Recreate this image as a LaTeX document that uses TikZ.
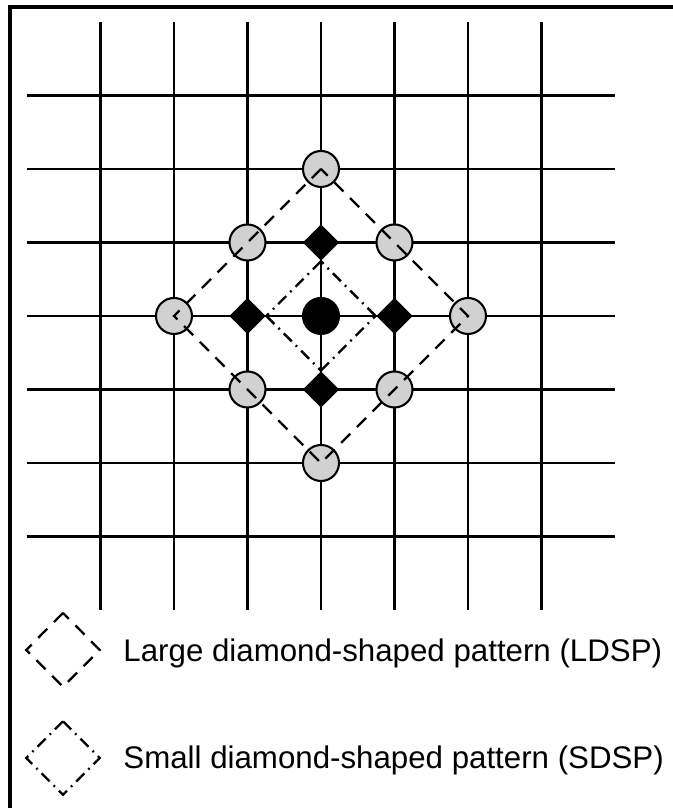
\documentclass[tikz,border=0pt]{standalone}
\usepackage{fontspec}
\setmainfont{Liberation Sans}
\usetikzlibrary{shapes.geometric}

\tikzset{
  gridline/.style={line width=0.8pt},
  lpt/.style={circle,draw,line width=0.8pt,fill=black!18,minimum size=0.49cm,inner sep=0pt},
  cpt/.style={circle,draw,line width=0.8pt,fill=black,minimum size=0.49cm,inner sep=0pt},
  spt/.style={diamond,fill=black,minimum size=0.5cm,inner sep=0pt},
  ldsp/.style={line width=0.9pt,dash pattern=on 5pt off 3.6pt},
  sdsp/.style={line width=0.9pt,dash pattern=on 4.4pt off 2.2pt on 0.7pt off 2.2pt},
  legtext/.style={anchor=base west,inner sep=0pt,font=\fontsize{12.1}{14}\selectfont}
}

\begin{document}
\begin{tikzpicture}
\useasboundingbox (-4.367,-6.694) rectangle (4.776,4.299);
% frame
\draw[line width=1.2pt] (-4.231,-7) -- (-4.231,4.204) -- (5,4.204);
% grid
\foreach \k in {-3,...,3} {
  \draw[gridline] (\k,-4) -- (\k,4);
  \draw[gridline] (-4,\k) -- (4,\k);
}
% search points
\node[cpt] (c0) at (0,0) {};
\node[spt] (st) at (0,1) {};
\node[spt] (sl) at (-1,0) {};
\node[spt] (sr) at (1,0) {};
\node[spt] (sb) at (0,-1) {};
\node[lpt] (lt) at (0,2) {};
\node[lpt] (ll) at (-2,0) {};
\node[lpt] (lr) at (2,0) {};
\node[lpt] (lb) at (0,-2) {};
\node[lpt] (ltl) at (-1,1) {};
\node[lpt] (ltr) at (1,1) {};
\node[lpt] (lbl) at (-1,-1) {};
\node[lpt] (lbr) at (1,-1) {};
% patterns
\draw[ldsp] (lt.center) -- (ll.center) -- (lb.center) -- (lr.center) -- cycle;
\draw[sdsp] (st.south) -- (sl.east);
\draw[sdsp] (sl.east) -- (sb.north);
\draw[sdsp] (sb.north) -- (sr.west);
\draw[sdsp] (sr.west) -- (st.south);
% legend
\draw[ldsp] (-3.51,-4.04) -- (-4.01,-4.544) -- (-3.51,-5.044) -- (-3.01,-4.544) -- cycle;
\node[legtext] (ltext) at (-2.694,-4.694) {Large diamond-shaped pattern (LDSP)};
\draw[sdsp] (-3.51,-5.514) -- (-4.01,-6.014) -- (-3.51,-6.514) -- (-3.01,-6.014) -- cycle;
\node[legtext] (stext) at (-2.694,-6.150) {Small diamond-shaped pattern (SDSP)};
\end{tikzpicture}
\end{document}
